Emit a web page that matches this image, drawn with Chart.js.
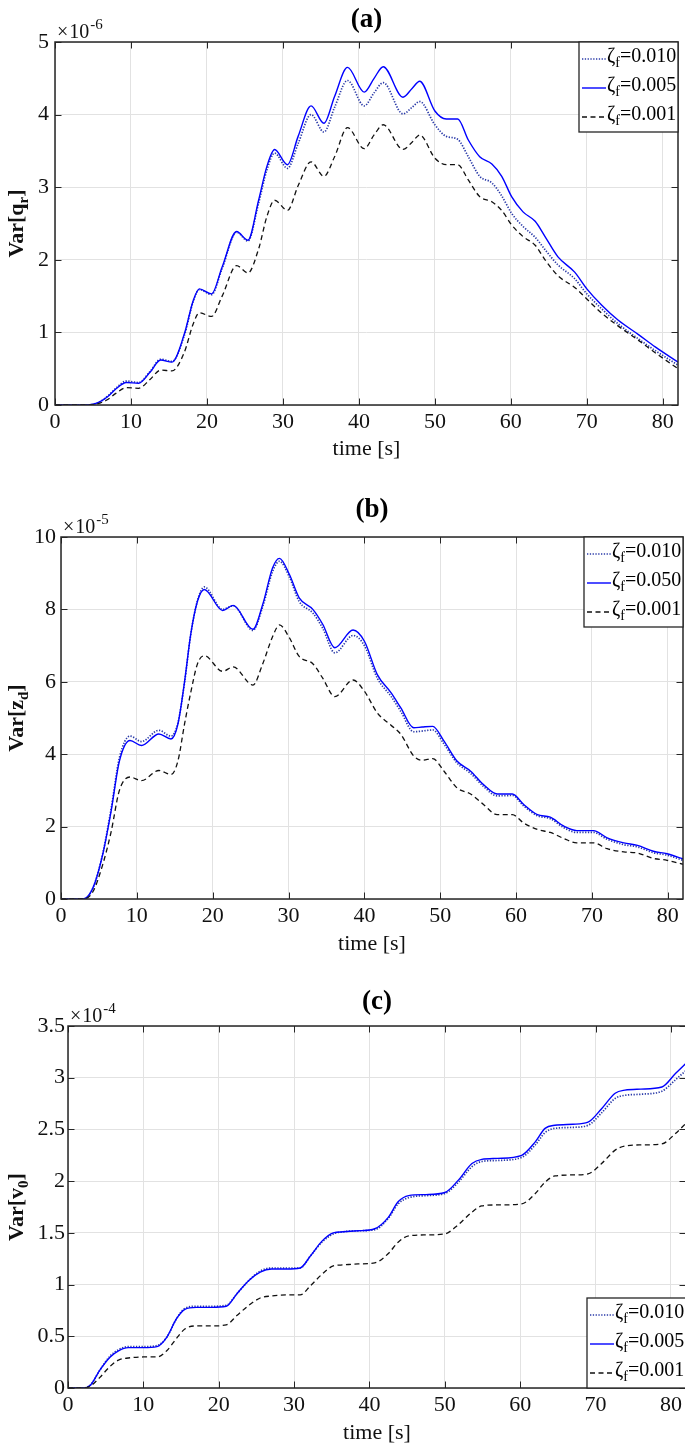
<!DOCTYPE html>
<html>
<head>
<meta charset="utf-8">
<title>Var responses</title>
<script src="https://cdn.jsdelivr.net/npm/chart.js@4.4.1/dist/chart.umd.min.js"></script>
<style>
	html, body { margin: 0; padding: 0; background: #fff; width: 685px; height: 1444px; overflow: hidden; }
	canvas { position: absolute; left: 0; }
</style>
</head>
<body>
<canvas id="chartA" width="685" height="462" style="top:0px"></canvas>
<canvas id="chartB" width="685" height="477" style="top:480px"></canvas>
<canvas id="chartC" width="686" height="486" style="top:960px"></canvas>
<script>
// ---- data ----
const timeTicks = [0, 10, 20, 30, 40, 50, 60, 70, 80];

// (a) Var[q_r], x 1e-6
const timeA = [0, 4, 5, 6, 7, 8, 9.4, 11, 12.5, 13.9, 15.4, 17, 18.2, 19, 20.6, 22, 23.9, 25.4, 26.8, 27.9, 28.9, 30.6, 32, 33.7, 35.4, 36.8, 38.5, 40.7, 42, 43.2, 45.8, 47, 48, 50, 51.5, 53, 54.4, 55.9, 57.5, 58.8, 60.1, 61.6, 63.2, 64.5, 66.2, 68.4, 70, 72, 74.1, 76.8, 79, 82];
const varQr010 = [0, 0, 0.01, 0.05, 0.13, 0.23, 0.33, 0.31, 0.46, 0.63, 0.60, 0.95, 1.43, 1.59, 1.52, 1.88, 2.38, 2.26, 2.78, 3.24, 3.47, 3.26, 3.60, 4.00, 3.76, 4.10, 4.47, 4.12, 4.30, 4.44, 4.01, 4.10, 4.18, 3.86, 3.70, 3.66, 3.42, 3.15, 3.06, 2.88, 2.64, 2.46, 2.31, 2.14, 1.93, 1.74, 1.53, 1.32, 1.12, 0.91, 0.75, 0.55];
const varQr005 = [0, 0, 0.01, 0.05, 0.12, 0.22, 0.31, 0.30, 0.45, 0.62, 0.59, 0.97, 1.44, 1.60, 1.53, 1.90, 2.39, 2.27, 2.82, 3.29, 3.52, 3.31, 3.70, 4.12, 3.88, 4.25, 4.65, 4.31, 4.50, 4.66, 4.24, 4.36, 4.46, 4.05, 3.94, 3.94, 3.65, 3.42, 3.32, 3.15, 2.87, 2.66, 2.53, 2.32, 2.04, 1.83, 1.60, 1.37, 1.17, 0.97, 0.80, 0.59];
const varQr001 = [0, 0, 0.005, 0.03, 0.08, 0.16, 0.24, 0.23, 0.35, 0.48, 0.47, 0.72, 1.12, 1.27, 1.22, 1.50, 1.92, 1.82, 2.15, 2.60, 2.82, 2.68, 3.02, 3.35, 3.15, 3.42, 3.82, 3.53, 3.72, 3.86, 3.52, 3.62, 3.72, 3.40, 3.31, 3.31, 3.10, 2.87, 2.80, 2.68, 2.48, 2.32, 2.20, 2.00, 1.78, 1.62, 1.46, 1.26, 1.09, 0.89, 0.72, 0.50];
const yTicksA = [0, 1, 2, 3, 4, 5];
const labelsA = ['0.010', '0.005', '0.001'];

// (b) Var[z_d], x 1e-5
const timeB = [0, 2.9, 4.2, 5.5, 6.6, 7.7, 9.1, 10.6, 12.9, 14.5, 15.4, 16.3, 17.1, 18, 18.9, 21.3, 22.7, 25.3, 26.6, 27.9, 28.8, 30.1, 31.4, 33.2, 34.5, 36.1, 38.5, 40, 41.7, 43.5, 44.8, 46.5, 47.6, 49, 50.5, 52.2, 54, 55.7, 57.5, 59.5, 61, 62.8, 64.5, 66.3, 68, 70.2, 72, 74.2, 76, 78.1, 79.9, 82];
const varZd010 = [0, 0, 0.30, 1.25, 2.48, 3.90, 4.50, 4.35, 4.66, 4.50, 4.85, 6.00, 7.30, 8.25, 8.62, 8.00, 8.10, 7.42, 8.08, 9.05, 9.33, 8.90, 8.22, 7.90, 7.48, 6.80, 7.28, 7.00, 6.10, 5.60, 5.18, 4.62, 4.64, 4.67, 4.28, 3.76, 3.47, 3.11, 2.85, 2.86, 2.57, 2.30, 2.22, 1.97, 1.84, 1.84, 1.65, 1.50, 1.44, 1.28, 1.21, 1.07];
const varZd050 = [0, 0, 0.30, 1.23, 2.42, 3.81, 4.38, 4.24, 4.56, 4.42, 4.82, 6.02, 7.31, 8.23, 8.55, 7.97, 8.11, 7.45, 8.14, 9.15, 9.41, 8.97, 8.32, 8.00, 7.59, 6.94, 7.43, 7.12, 6.20, 5.70, 5.28, 4.73, 4.75, 4.77, 4.36, 3.81, 3.53, 3.16, 2.90, 2.90, 2.61, 2.33, 2.26, 2.01, 1.89, 1.89, 1.69, 1.55, 1.48, 1.32, 1.25, 1.11];
const varZd001 = [0, 0, 0.20, 0.95, 1.85, 3.00, 3.37, 3.27, 3.55, 3.44, 3.80, 4.85, 5.70, 6.50, 6.72, 6.29, 6.41, 5.91, 6.50, 7.25, 7.57, 7.22, 6.70, 6.50, 6.10, 5.59, 6.05, 5.74, 5.14, 4.80, 4.55, 3.95, 3.83, 3.88, 3.53, 3.07, 2.90, 2.61, 2.33, 2.33, 2.10, 1.92, 1.84, 1.67, 1.55, 1.55, 1.39, 1.30, 1.27, 1.12, 1.07, 0.96];
const yTicksB = [0, 2, 4, 6, 8, 10];
const labelsB = ['0.010', '0.050', '0.001'];

// (c) Var[v_0], x 1e-4
const timeC = [0, 2, 3, 4.2, 5.6, 6.7, 8, 10, 11.8, 13.1, 14.4, 15.5, 17, 19, 21, 22.4, 24, 25.5, 27, 29, 30.8, 32.2, 33.7, 35.2, 36.5, 38.5, 40.7, 42.5, 43.8, 45.2, 47.5, 50, 51.8, 53.6, 54.9, 57, 60.2, 62, 63.3, 64.6, 67, 69, 70.8, 72.6, 73.9, 76, 78.8, 80.6, 82];
const varV0010 = [0, 0, 0.03, 0.17, 0.31, 0.37, 0.40, 0.40, 0.41, 0.49, 0.67, 0.77, 0.79, 0.79, 0.80, 0.91, 1.04, 1.13, 1.16, 1.16, 1.16, 1.28, 1.41, 1.49, 1.51, 1.52, 1.53, 1.64, 1.78, 1.84, 1.86, 1.88, 1.99, 2.14, 2.19, 2.20, 2.23, 2.35, 2.47, 2.51, 2.52, 2.54, 2.66, 2.80, 2.83, 2.84, 2.87, 2.98, 3.07];
const varV0005 = [0, 0, 0.03, 0.17, 0.30, 0.36, 0.39, 0.39, 0.40, 0.49, 0.67, 0.76, 0.78, 0.78, 0.79, 0.91, 1.04, 1.12, 1.15, 1.15, 1.16, 1.28, 1.42, 1.50, 1.51, 1.52, 1.54, 1.65, 1.80, 1.86, 1.87, 1.89, 2.01, 2.17, 2.21, 2.22, 2.25, 2.38, 2.51, 2.54, 2.55, 2.57, 2.70, 2.85, 2.88, 2.89, 2.91, 3.04, 3.14];
const varV0001 = [0, 0, 0.02, 0.10, 0.21, 0.27, 0.29, 0.30, 0.30, 0.36, 0.48, 0.57, 0.60, 0.60, 0.61, 0.70, 0.80, 0.87, 0.89, 0.90, 0.90, 0.99, 1.10, 1.18, 1.19, 1.20, 1.21, 1.30, 1.41, 1.47, 1.48, 1.49, 1.58, 1.70, 1.76, 1.77, 1.78, 1.88, 1.99, 2.05, 2.06, 2.07, 2.17, 2.30, 2.34, 2.35, 2.36, 2.46, 2.56];
const yTicksC = [0, 0.5, 1, 1.5, 2, 2.5, 3, 3.5];
const labelsC = ['0.010', '0.005', '0.001'];

// ---- styling ----
const FONT = '"Liberation Serif", "Times New Roman", serif';
const AXIS_COLOR = '#262626';
const GRID_COLOR = '#e2e2e2';
const TICK_SIZE = 22;

// dotted, solid, dashed (MATLAB plot order)
const seriesStyles = [
	{ color: '#2a3aa8', width: 1.7, dash: [1.3, 1.5], order: 3 },
	{ color: '#0000ff', width: 1.4, dash: [], order: 2 },
	{ color: '#111111', width: 1.3, dash: [5, 3.5], order: 1 },
];

function drawRuns(ctx, runs, x, y, mainFont, smallFont, shift) {
	let cx = x;
	runs.forEach((run) => {
		ctx.font = run.small ? smallFont : mainFont;
		ctx.fillText(run.text, cx, run.small ? y + shift : y);
		cx += ctx.measureText(run.text).width;
	});
	return cx - x;
}

function measureRuns(ctx, runs, mainFont, smallFont) {
	let w = 0;
	runs.forEach((run) => {
		ctx.font = run.small ? smallFont : mainFont;
		w += ctx.measureText(run.text).width;
	});
	return w;
}

const figureDecor = {
	id: 'figureDecor',
	afterDatasetsDraw(chart) {
		const { ctx, chartArea: area, scales } = chart;
		const tickLen = 6.5;
		ctx.save();
		ctx.strokeStyle = AXIS_COLOR;
		ctx.lineWidth = 1;
		ctx.beginPath();
		scales.x.ticks.forEach((t) => {
			const px = Math.round(scales.x.getPixelForValue(t.value)) + 0.5;
			ctx.moveTo(px, area.bottom); ctx.lineTo(px, area.bottom - tickLen);
			ctx.moveTo(px, area.top); ctx.lineTo(px, area.top + tickLen);
		});
		scales.y.ticks.forEach((t) => {
			const py = Math.round(scales.y.getPixelForValue(t.value)) + 0.5;
			ctx.moveTo(area.left, py); ctx.lineTo(area.left + tickLen, py);
			ctx.moveTo(area.right, py); ctx.lineTo(area.right - tickLen, py);
		});
		ctx.stroke();
		ctx.lineWidth = 1.5;
		ctx.strokeRect(area.left, area.top, area.width, area.height);
		ctx.restore();
	},
	afterDraw(chart, args, opts) {
		const { ctx, chartArea: area } = chart;
		ctx.save();
		ctx.fillStyle = '#111';
		ctx.textAlign = 'left';
		ctx.textBaseline = 'alphabetic';

		// x10^n factor above the y axis
		const base = area.top - 4;
		ctx.font = `20px ${FONT}`;
		ctx.fillText('\u00d7', area.left + 2, base);
		const xw = ctx.measureText('\u00d7').width;
		ctx.fillText('10', area.left + 3 + xw, base);
		const tw = ctx.measureText('10').width;
		ctx.font = `15px ${FONT}`;
		ctx.fillText(opts.exponent, area.left + 4 + xw + tw, base - 9);

		// y axis label with subscript, rotated
		const yFont = `bold 22px ${FONT}`;
		const ySmall = `bold 15px ${FONT}`;
		const yw = measureRuns(ctx, opts.yLabel, yFont, ySmall);
		ctx.translate(opts.yLabelX, (area.top + area.bottom) / 2);
		ctx.rotate(-Math.PI / 2);
		drawRuns(ctx, opts.yLabel, -yw / 2, 7, yFont, ySmall, 5);
		ctx.setTransform(1, 0, 0, 1, 0, 0);

		// legend box
		const boxW = 99;
		const boxH = 90;
		const left = area.right - boxW;
		const top = opts.legendAt === 'bottom' ? area.bottom - boxH : area.top;
		ctx.fillStyle = '#fff';
		ctx.fillRect(left, top, boxW, boxH);
		ctx.strokeStyle = AXIS_COLOR;
		ctx.lineWidth = 1.3;
		ctx.strokeRect(left, top, boxW, boxH);
		opts.labels.forEach((label, i) => {
			const style = seriesStyles[i];
			const rowY = top + 17 + i * 29;
			ctx.strokeStyle = style.color;
			ctx.lineWidth = style.width;
			ctx.setLineDash(style.dash);
			ctx.beginPath();
			ctx.moveTo(left + 3, rowY);
			ctx.lineTo(left + 27, rowY);
			ctx.stroke();
			ctx.setLineDash([]);
			ctx.fillStyle = '#000';
			drawRuns(ctx, [{ text: '\u03b6' }, { text: 'f', small: true }, { text: '=' + label }],
				left + 28, rowY + 3, `20px ${FONT}`, `14px ${FONT}`, 5);
		});
		ctx.restore();
	},
};

function makeChart(id, panel) {
	const canvas = document.getElementById(id);
	const H = canvas.height;
	const W = canvas.width;
	const box = panel.box;
	const series = panel.series.map((values, i) => ({
		data: panel.time.map((t, k) => ({ x: t, y: values[k] })),
		borderColor: seriesStyles[i].color,
		borderWidth: seriesStyles[i].width,
		borderDash: seriesStyles[i].dash,
		order: seriesStyles[i].order,
		pointRadius: 0,
		fill: false,
		cubicInterpolationMode: 'monotone',
	}));

	return new Chart(canvas.getContext('2d'), {
		type: 'line',
		data: { datasets: series },
		plugins: [figureDecor],
		options: {
			responsive: false,
			animation: false,
			events: [],
			layout: { padding: { top: 0, left: 0, bottom: 0, right: W - box.right } },
			plugins: {
				legend: { display: false },
				tooltip: { enabled: false },
				title: {
					display: true,
					text: panel.title,
					fullSize: false,
					color: '#000',
					font: { family: FONT, size: 27, weight: 'bold', lineHeight: 1.2 },
					padding: { top: panel.titleY - 16.2, bottom: box.top - panel.titleY - 16.2 },
				},
				figureDecor: {
					exponent: panel.exponent,
					yLabel: panel.yLabel,
					yLabelX: 16,
					labels: panel.labels,
					legendAt: panel.legendAt,
				},
			},
			scales: {
				x: {
					type: 'linear',
					min: 0,
					max: 82,
					afterBuildTicks: (scale) => { scale.ticks = timeTicks.map((v) => ({ value: v })); },
					afterFit: (scale) => { scale.height = H - box.bottom; },
					grid: { color: GRID_COLOR, lineWidth: 1, drawTicks: false },
					border: { display: false },
					ticks: {
						color: '#111',
						padding: 4,
						maxRotation: 0,
						font: { family: FONT, size: TICK_SIZE },
						callback: (v) => String(v),
					},
					title: {
						display: true,
						text: 'time [s]',
						color: '#111',
						font: { family: FONT, size: TICK_SIZE, lineHeight: 1.2 },
						padding: { top: 0, bottom: Math.max(0, H - panel.xTitleY - TICK_SIZE * 0.6) },
					},
				},
				y: {
					type: 'linear',
					min: 0,
					max: panel.yTicks[panel.yTicks.length - 1],
					afterBuildTicks: (scale) => { scale.ticks = panel.yTicks.map((v) => ({ value: v })); },
					afterFit: (scale) => { scale.width = box.left; },
					grid: { color: GRID_COLOR, lineWidth: 1, drawTicks: false },
					border: { display: false },
					ticks: {
						color: '#111',
						padding: panel.yTickPad,
						font: { family: FONT, size: TICK_SIZE },
						callback: (v) => String(v),
					},
				},
			},
		},
	});
}

document.addEventListener('DOMContentLoaded', () => {
	makeChart('chartA', {
		title: '(a)',
		time: timeA,
		series: [varQr010, varQr005, varQr001],
		labels: labelsA,
		yTicks: yTicksA,
		exponent: '-6',
		yLabel: [{ text: 'Var[q' }, { text: 'r', small: true }, { text: ']' }],
		legendAt: 'top',
		box: { left: 55, right: 678, top: 42, bottom: 405 },
		titleY: 20,
		xTitleY: 449,
		yTickPad: 6,
	});
	makeChart('chartB', {
		title: '(b)',
		time: timeB,
		series: [varZd010, varZd050, varZd001],
		labels: labelsB,
		yTicks: yTicksB,
		exponent: '-5',
		yLabel: [{ text: 'Var[z' }, { text: 'd', small: true }, { text: ']' }],
		legendAt: 'top',
		box: { left: 61, right: 683, top: 57, bottom: 419 },
		titleY: 30,
		xTitleY: 464,
		yTickPad: 5,
	});
	makeChart('chartC', {
		title: '(c)',
		time: timeC,
		series: [varV0010, varV0005, varV0001],
		labels: labelsC,
		yTicks: yTicksC,
		exponent: '-4',
		yLabel: [{ text: 'Var[v' }, { text: '0', small: true }, { text: ']' }],
		legendAt: 'bottom',
		box: { left: 68, right: 686, top: 66, bottom: 428 },
		titleY: 42,
		xTitleY: 473,
		yTickPad: 3,
	});
});
</script>
</body>
</html>
